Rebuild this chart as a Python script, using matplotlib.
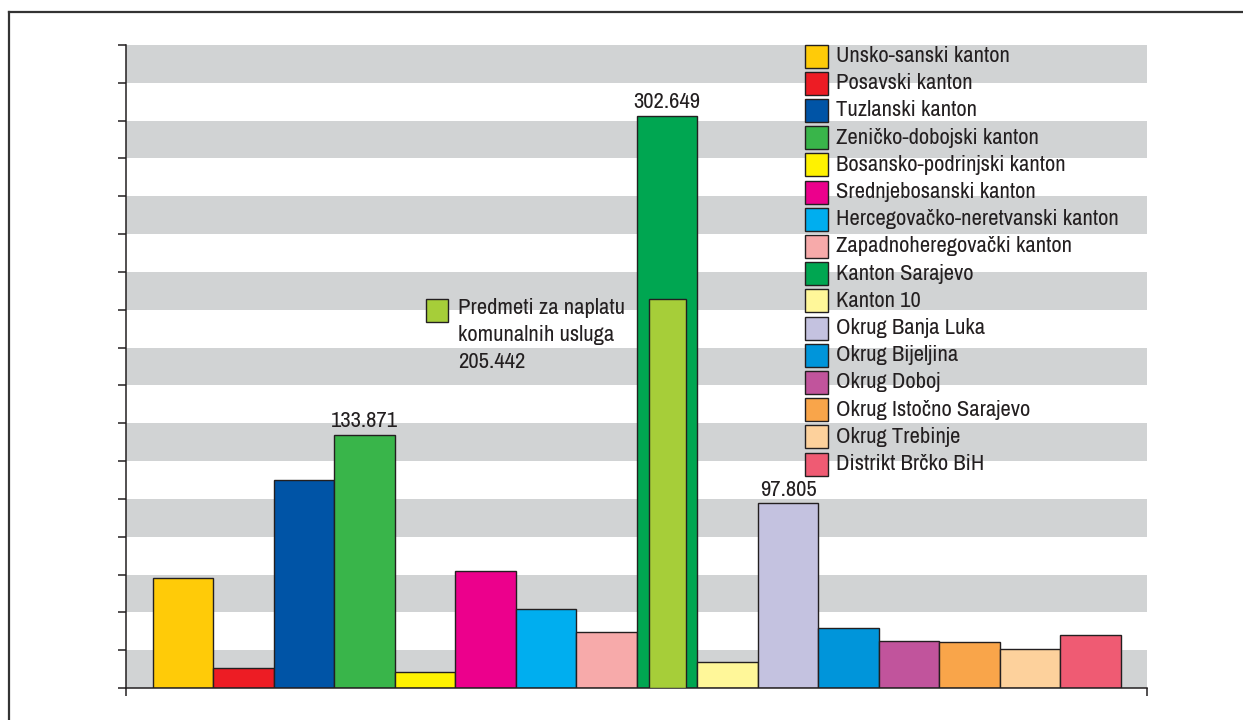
import matplotlib
matplotlib.use('Agg')
import matplotlib.pyplot as plt
import matplotlib.patches as patches
from matplotlib.lines import Line2D
from matplotlib import font_manager as fm

# Data (values in thousands)
regions = ['Unsko-sanski kanton', 'Posavski kanton', 'Tuzlanski kanton',
           'Zeničko-dobojski kanton', 'Bosansko-podrinjski kanton',
           'Srednjebosanski kanton', 'Hercegovačko-neretvanski kanton',
           'Zapadnoheregovački kanton', 'Kanton Sarajevo', 'Kanton 10',
           'Okrug Banja Luka', 'Okrug Bijeljina', 'Okrug Doboj',
           'Okrug Istočno Sarajevo', 'Okrug Trebinje', 'Distrikt Brčko BiH']
values = [58.1, 10.6, 109.9, 133.871, 8.5, 61.8, 41.7, 29.6,
          302.649, 13.7, 97.805, 31.7, 24.8, 24.3, 20.6, 28.0]
colors = ['#FFCB08', '#ED1C24', '#0054A6', '#39B54A', '#FFF200', '#EC008C',
          '#00AEEF', '#F7AAAA', '#00A651', '#FFF799', '#C4C2E0', '#0095DA',
          '#C1549C', '#F9A54A', '#FDD19C', '#EF5B73']
labelled = {3: '133.871', 8: '302.649', 10: '97.805'}

# inner bar inside Kanton Sarajevo
inner_label = 'Predmeti za naplatu\nkomunalnih usluga\n205.442'
inner_value = 205.442
inner_index = 8
inner_color = '#A6CE39'

W, H = 1243, 720
edge = '#231F20'

# look for a condensed sans face (the original uses a narrow Helvetica)
family, stretch, fsize, lsp = 'Liberation Sans', 'normal', 14, 1.25
for f in fm.fontManager.ttflist:
    if 'Narrow' in f.name or 'Condensed' in f.name:
        family, stretch, fsize, lsp = f.name, f.stretch, 16.3, 1.45
        break
    if f.stretch in ('condensed', 'semi-condensed') and f.style == 'normal':
        family, stretch, fsize, lsp = f.name, f.stretch, 16.3, 1.45
plt.rcParams['font.family'] = [family, 'DejaVu Sans']
plt.rcParams['font.stretch'] = stretch

fig = plt.figure(figsize=(W / 100, H / 100), dpi=100)
ax = fig.add_axes([126 / W, 1 - 688 / H, (1147 - 126) / W, (688 - 45) / H])

def fx(px):
    return px / W

def fy(py):
    return 1 - py / H

# background bands
for k in range(0, 340, 40):
    ax.axhspan(k, k + 20, color='#D1D3D4', lw=0, zorder=0)

xs = list(range(len(values)))
ax.bar(xs, values, width=1.0, color=colors, edgecolor=edge, linewidth=1.0, zorder=2)
ax.bar([inner_index], [inner_value], width=0.61, color=inner_color,
       edgecolor=edge, linewidth=1.0, zorder=3)

for i, txt in labelled.items():
    ax.annotate(txt, (i, values[i]), xytext=(0, 2.5), textcoords='offset points',
                ha='center', va='bottom', fontsize=fsize, color=edge, zorder=4)

xmin, xmax = -0.946, 15.93
ax.set_xlim(xmin, xmax)
ax.set_ylim(0, 340)
ax.set_yticks(range(0, 341, 20))
ax.set_yticklabels([])
ax.set_xticks([xmin, xmax])
ax.set_xticklabels([])
ax.tick_params(axis='both', direction='out', length=6, width=1.1, color=edge)
for s in ['top', 'right']:
    ax.spines[s].set_visible(False)
for s in ['left', 'bottom']:
    ax.spines[s].set_color(edge)
    ax.spines[s].set_linewidth(1.1)

# legend drawn by hand
for i, (name, c) in enumerate(zip(regions, colors)):
    cy = 56 + 27.2 * i
    fig.add_artist(patches.Rectangle((fx(805), fy(cy + 11.5)), fx(23), 23 / H,
                                     facecolor=c, edgecolor=edge, linewidth=1.0,
                                     transform=fig.transFigure))
    fig.text(fx(836), fy(cy), name, fontsize=fsize, va='center', ha='left', color=edge)

# annotation for inner bar
fig.add_artist(patches.Rectangle((fx(426), fy(322)), fx(22), 23 / H,
                                 facecolor=inner_color, edgecolor=edge, linewidth=1.0,
                                 transform=fig.transFigure))
fig.text(fx(458), fy(298), inner_label, fontsize=fsize, va='top', ha='left',
         color=edge, linespacing=lsp)

# outer frame
fig.add_artist(Line2D([fx(9), 1], [fy(12), fy(12)], color='#333333', lw=1.6))
fig.add_artist(Line2D([fx(9), fx(9)], [fy(12), 0], color='#333333', lw=1.6))

fig.savefig('out.png', dpi=100)
